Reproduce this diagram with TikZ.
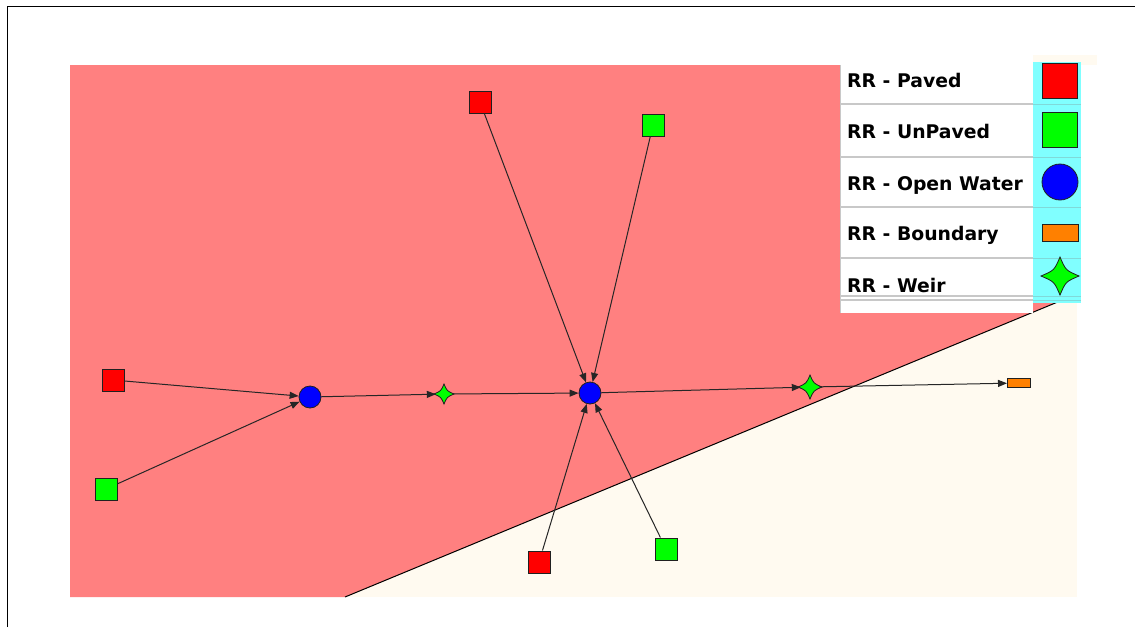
\documentclass[tikz,border=0pt]{standalone}
\usepackage{fontspec}
\setmainfont{DejaVu Sans}
\usetikzlibrary{arrows.meta}
\definecolor{pinkarea}{HTML}{FF8080}
\definecolor{creamarea}{HTML}{FFFAF0}
\definecolor{cyancol}{HTML}{80FFFF}
\definecolor{sepgray}{HTML}{C8C8C8}
\definecolor{nodeline}{HTML}{202020}
\definecolor{orangebd}{HTML}{FF8000}
\tikzset{
  paved/.style={rectangle, fill=red, draw=nodeline, line width=1pt, minimum size=22pt, inner sep=0pt},
  unpaved/.style={rectangle, fill=green, draw=nodeline, line width=1pt, minimum size=22pt, inner sep=0pt},
  openwater/.style={circle, fill=blue, draw=nodeline, line width=0.8pt, minimum size=22pt, inner sep=0pt},
  weirnode/.style={circle, minimum size=16pt, inner sep=0pt},
  weirfill/.style={fill=green, draw=nodeline, line width=0.8pt},
  boundarynode/.style={rectangle, fill=orangebd, draw=nodeline, line width=1pt, minimum width=23pt, minimum height=9pt, inner sep=0pt},
  flow/.style={draw=black!85, line width=1pt, -{Triangle[length=9pt,width=7pt]}},
  legtext/.style={anchor=base west, inner sep=0pt, font=\bfseries\fontsize{18.8}{20}\selectfont, text=black},
  sepline/.style={draw=sepgray, line width=1.2pt}
}
% four-pointed sparkle centred on a named node, radius #2
\newcommand{\drawsparkle}[2]{%
  \path[weirfill, shift={(#1.center)}]
    (#2,0) .. controls (0.3*#2,0.3*#2) .. (0,#2)
    .. controls (-0.3*#2,0.3*#2) .. (-#2,0)
    .. controls (-0.3*#2,-0.3*#2) .. (0,-#2)
    .. controls (0.3*#2,-0.3*#2) .. cycle;}
\begin{document}
\begin{tikzpicture}[x=1pt,y=-1pt]
\useasboundingbox (0,0) rectangle (1135,627);
\fill[white] (0,0) rectangle (1135,627);
% frame
\draw[black, line width=1pt] (7,627) -- (7,6) -- (1135,6);
% map background
\fill[creamarea] (70,65) rectangle (1077,597);
\fill[creamarea] (1033,55) rectangle (1097,65);
\fill[pinkarea] (70,65) -- (1077,65) -- (1077,294) -- (345,597) -- (70,597) -- cycle;
\draw[black, line width=1pt] (345,597) -- (1077,294);
% legend
\fill[white] (840,65) rectangle (1033,313);
\draw[sepgray, line width=1pt] (840,65) -- (840,313);
\fill[cyancol] (1033,62) rectangle (1081,303);
\foreach \yy in {104,157,207,258,296,300} {
  \draw[sepline] (840,\yy) -- (1033,\yy);
  \draw[draw=cyancol!70!gray, line width=1pt] (1033,\yy) -- (1081,\yy);
}
\node[legtext] (lt1) at (847,87) {RR - Paved};
\node[legtext] (lt2) at (847,138) {RR - UnPaved};
\node[legtext] (lt3) at (847,190) {RR - Open Water};
\node[legtext] (lt4) at (847,240) {RR - Boundary};
\node[legtext] (lt5) at (847,292) {RR - Weir};
\node[paved, minimum size=35pt] (li1) at (1060,81) {};
\node[unpaved, minimum size=35pt] (li2) at (1060,130) {};
\node[openwater, minimum size=36pt] (li3) at (1060,182) {};
\node[boundarynode, minimum width=36pt, minimum height=17pt] (li4) at (1060,233) {};
\node[weirnode, minimum size=30pt] (li5) at (1060,276) {};
\drawsparkle{li5}{19}
% network nodes
\node[paved] (p1) at (113,380) {};
\node[unpaved] (u1) at (106,489) {};
\node[openwater] (ow1) at (310,397) {};
\node[weirnode] (w1) at (444,394) {};
\drawsparkle{w1}{10}
\node[openwater] (ow2) at (590,393) {};
\node[weirnode, minimum size=18pt] (w2) at (810,387) {};
\drawsparkle{w2}{12}
\node[boundarynode] (bd) at (1019,383) {};
\node[paved] (p2) at (480,102) {};
\node[unpaved] (u2) at (653,125) {};
\node[paved] (p3) at (539,562) {};
\node[unpaved] (u3) at (666,549) {};
% connectors
\draw[flow] (p1) -- (ow1);
\draw[flow] (u1) -- (ow1);
\draw[flow] (ow1) -- (w1);
\draw[flow] (w1) -- (ow2);
\draw[flow] (p2) -- (ow2);
\draw[flow] (u2) -- (ow2);
\draw[flow] (p3) -- (ow2);
\draw[flow] (u3) -- (ow2);
\draw[flow] (ow2) -- (w2);
\draw[flow] (w2) -- (bd);
\end{tikzpicture}
\end{document}
